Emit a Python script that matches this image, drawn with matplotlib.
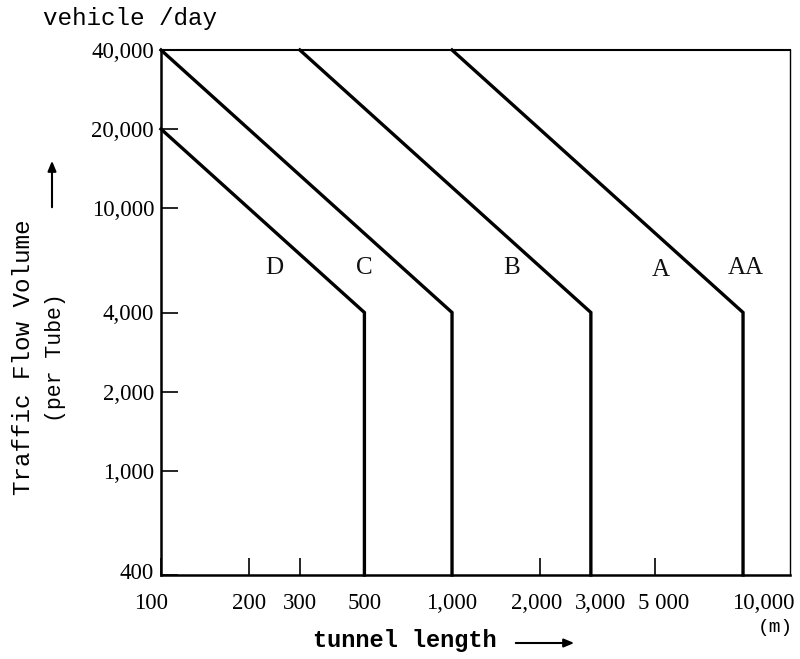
import matplotlib
matplotlib.use("Agg")
import matplotlib.pyplot as plt
import matplotlib.transforms as mtransforms

# ---- data ----
classes = ["D", "C", "B", "A", "AA"]
# polyline vertices for each class boundary (tunnel length m, vehicles/day)
line_D_x = [100, 500, 500]
line_D_y = [20000, 4000, 400]
line_C_x = [100, 1000, 1000]
line_C_y = [40000, 4000, 400]
line_B_x = [300, 3000, 3000]
line_B_y = [40000, 4000, 400]
line_A_x = [1000, 10000, 10000]
line_A_y = [40000, 4000, 400]
lines_x = [line_D_x, line_C_x, line_B_x, line_A_x]
lines_y = [line_D_y, line_C_y, line_B_y, line_A_y]

# class label positions
label_x = [245, 500, 1600, 5200, 10200]
label_y = [5900, 5900, 5900, 5800, 5900]

x_ticks = [100, 200, 300, 500, 1000, 2000, 3000, 5000, 10000]
x_tick_labels = ["100", "200", "300", "500", "1,000", "2,000", "3,000", "5 000", "10,000"]
y_ticks = [400, 1000, 2000, 4000, 10000, 20000, 40000]
y_tick_labels = ["400", "1,000", "2,000", "4,000", "10,000", "20,000", "40,000"]

# ---- figure ----
fig = plt.figure(figsize=(8.0, 6.59), dpi=100)
ax = fig.add_axes([161/800, 1 - 575/659, (790 - 161)/800, (575 - 50)/659])
ax.set_xscale("log")
ax.set_yscale("log")
ax.set_xlim(100, 14500)
ax.set_ylim(400, 40000)

for xs, ys in zip(lines_x, lines_y):
    ax.plot(xs, ys, color="black", lw=2.4, solid_joinstyle="miter", clip_on=False)

serif = "Liberation Serif"
mono = "Liberation Mono"

for name, lx, ly in zip(classes, label_x, label_y):
    ax.text(lx, ly, name, fontsize=18, family=serif,
            ha="center", va="center", color="#111111")

ax.set_xticks(x_ticks)
ax.set_xticklabels(x_tick_labels, fontsize=16.5, family=serif)
ax.set_yticks(y_ticks)
ax.set_yticklabels(y_tick_labels, fontsize=16.5, family=serif)
ax.minorticks_off()
ax.tick_params(axis="both", direction="in", length=12, width=1.2, colors="black")
ax.tick_params(axis="x", pad=13)
ax.tick_params(axis="y", pad=5)

# nudge some x labels sideways like the hand-lettered reference
x_label_shift_px = {"100": -10, "2,000": -3, "3,000": 10, "5 000": 8, "10,000": 20}
for lbl in ax.get_xticklabels():
    dx = x_label_shift_px.get(lbl.get_text(), 0)
    if dx:
        lbl.set_transform(lbl.get_transform() +
                          mtransforms.ScaledTranslation(dx / 100, 0, fig.dpi_scale_trans))
for lbl in ax.get_yticklabels():
    if lbl.get_text() == "400":
        lbl.set_transform(lbl.get_transform() +
                          mtransforms.ScaledTranslation(0, 0.04, fig.dpi_scale_trans))

for sp in ax.spines.values():
    sp.set_linewidth(1.8)
ax.spines["right"].set_linewidth(1.0)
ax.spines["top"].set_linewidth(1.5)

# texts
fig.text(43/800, 1 - 18/659, "vehicle /day", family=mono, fontsize=17.5,
         ha="left", va="center")
fig.text(313/800, 1 - 641/659, "tunnel length", family=mono, fontsize=17,
         ha="left", va="center", fontweight="bold")
fig.text(775/800, 1 - 627/659, "(m)", family=mono, fontsize=14,
         ha="center", va="center")
fig.text(24/800, 1 - 357/659, "Traffic Flow Volume", family=mono, fontsize=17.5,
         rotation=90, ha="center", va="center")
fig.text(55/800, 1 - 358/659, "(per Tube)", family=mono, fontsize=15.5,
         rotation=90, ha="center", va="center")

# arrows
fig.add_artist(matplotlib.patches.FancyArrowPatch(
    (513/800, 1 - 643/659), (577/800, 1 - 643/659), transform=fig.transFigure,
    arrowstyle="-|>,head_length=6,head_width=2.5", lw=1.5, color="black"))
fig.add_artist(matplotlib.patches.FancyArrowPatch(
    (52/800, 1 - 210/659), (52/800, 1 - 158/659), transform=fig.transFigure,
    arrowstyle="-|>,head_length=6,head_width=2.5", lw=1.5, color="black"))

fig.savefig("out.png", dpi=100, facecolor="white")
